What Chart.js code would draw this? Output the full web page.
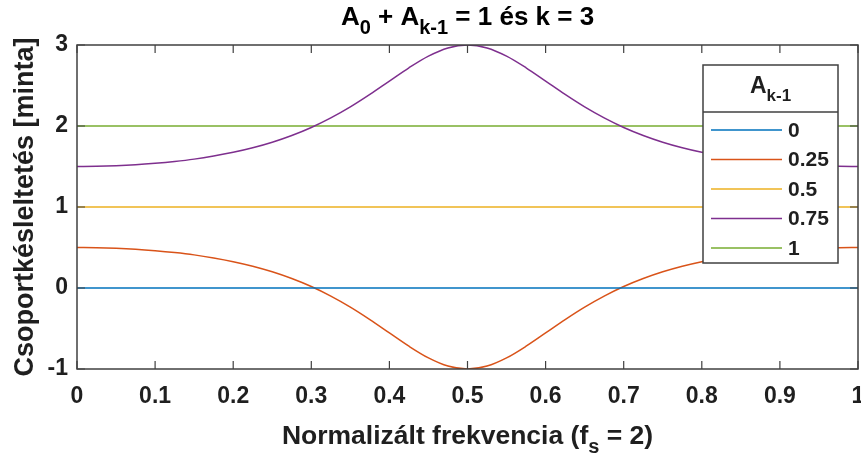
<!DOCTYPE html>
<html>
<head>
<meta charset="utf-8">
<script src="https://cdn.jsdelivr.net/npm/chart.js@4/dist/chart.umd.min.js"></script>
<style>
  html, body { margin: 0; padding: 0; background: #ffffff; }
  #wrap { width: 861px; height: 454px; }
</style>
</head>
<body>
<div id="wrap"><canvas id="c" width="861" height="454"></canvas></div>
<script>
// Normalised frequency grid (f_s = 2)
const freq = [
  0, 0.025, 0.05, 0.075, 0.1, 0.125, 0.15, 0.175, 0.2, 0.225,
  0.25, 0.275, 0.3, 0.325, 0.35, 0.375, 0.4, 0.425, 0.45, 0.475,
  0.5, 0.525, 0.55, 0.575, 0.6, 0.625, 0.65, 0.675, 0.7, 0.725,
  0.75, 0.775, 0.8, 0.825, 0.85, 0.875, 0.9, 0.925, 0.95, 0.975, 1
];

// Legend entries (value of A_{k-1})
const seriesLabels = ['0', '0.25', '0.5', '0.75', '1'];

// Group delay in samples for each A_{k-1}
const delayA0 = [
  0, 0, 0, 0, 0, 0, 0, 0, 0, 0,
  0, 0, 0, 0, 0, 0, 0, 0, 0, 0,
  0, 0, 0, 0, 0, 0, 0, 0, 0, 0,
  0, 0, 0, 0, 0, 0, 0, 0, 0, 0, 0
];
const delayA025 = [
  0.500, 0.498, 0.491, 0.479, 0.461, 0.438, 0.409, 0.371, 0.325, 0.269,
  0.200, 0.117, 0.018, -0.100, -0.236, -0.390, -0.555, -0.719, -0.863, -0.964,
  -1.000, -0.964, -0.863, -0.719, -0.555, -0.390, -0.236, -0.100, 0.018, 0.117,
  0.200, 0.269, 0.325, 0.371, 0.409, 0.438, 0.461, 0.479, 0.491, 0.498, 0.500
];
const delayA05 = [
  1, 1, 1, 1, 1, 1, 1, 1, 1, 1,
  1, 1, 1, 1, 1, 1, 1, 1, 1, 1,
  1, 1, 1, 1, 1, 1, 1, 1, 1, 1,
  1, 1, 1, 1, 1, 1, 1, 1, 1, 1, 1
];
const delayA075 = [
  1.500, 1.502, 1.509, 1.521, 1.539, 1.562, 1.591, 1.629, 1.675, 1.731,
  1.800, 1.883, 1.982, 2.100, 2.236, 2.390, 2.555, 2.719, 2.863, 2.964,
  3.000, 2.964, 2.863, 2.719, 2.555, 2.390, 2.236, 2.100, 1.982, 1.883,
  1.800, 1.731, 1.675, 1.629, 1.591, 1.562, 1.539, 1.521, 1.509, 1.502, 1.500
];
const delayA1 = [
  2, 2, 2, 2, 2, 2, 2, 2, 2, 2,
  2, 2, 2, 2, 2, 2, 2, 2, 2, 2,
  2, 2, 2, 2, 2, 2, 2, 2, 2, 2,
  2, 2, 2, 2, 2, 2, 2, 2, 2, 2, 2
];

// Axis tick labels
const xTickLabels = ['0', '0.1', '0.2', '0.3', '0.4', '0.5', '0.6', '0.7', '0.8', '0.9', '1'];
const yTickLabels = ['-1', '0', '1', '2', '3'];

const seriesValues = [delayA0, delayA025, delayA05, delayA075, delayA1];
const seriesColors = ['#0072BD', '#D95319', '#EDB120', '#7E2F8E', '#77AC30'];

const FONT = '"Liberation Sans", Arial, Helvetica, sans-serif';
const TEXT = '#1f1f1f';
const AXIS = '#404040';

const datasets = seriesValues.map((vals, i) => ({
  label: seriesLabels[i],
  data: freq.map((f, j) => ({ x: f, y: vals[j] })),
  borderColor: seriesColors[i],
  backgroundColor: seriesColors[i],
  borderWidth: 1.5,
  pointRadius: 0,
  fill: false,
  cubicInterpolationMode: 'monotone'
}));

// Draws a run of text pieces, some of them as subscripts
function drawRich(ctx, parts, x, y, size, align) {
  const subSize = Math.round(size * 0.75);
  const widths = parts.map(p => {
    ctx.font = 'bold ' + (p.sub ? subSize : size) + 'px ' + FONT;
    return ctx.measureText(p.t).width;
  });
  const total = widths.reduce((a, b) => a + b, 0);
  let cx = align === 'center' ? x - total / 2 : (align === 'right' ? x - total : x);
  ctx.textAlign = 'left';
  ctx.textBaseline = 'alphabetic';
  parts.forEach((p, i) => {
    ctx.font = 'bold ' + (p.sub ? subSize : size) + 'px ' + FONT;
    ctx.fillText(p.t, cx, p.sub ? y + size * 0.33 : y);
    cx += widths[i];
  });
}

const framePlugin = {
  id: 'frame',
  afterDatasetsDraw(chart) {
    const ctx = chart.ctx;
    const a = chart.chartArea;
    const xs = chart.scales.x, ys = chart.scales.y;
    ctx.save();
    ctx.strokeStyle = AXIS;
    ctx.lineWidth = 1.5;
    ctx.strokeRect(a.left, a.top, a.right - a.left, a.bottom - a.top);
    ctx.lineWidth = 1.2;
    ctx.beginPath();
    const tl = 8;
    xs.ticks.forEach(t => {
      const px = xs.getPixelForValue(t.value);
      ctx.moveTo(px, a.bottom); ctx.lineTo(px, a.bottom - tl);
      ctx.moveTo(px, a.top); ctx.lineTo(px, a.top + tl);
    });
    ys.ticks.forEach(t => {
      const py = ys.getPixelForValue(t.value);
      ctx.moveTo(a.left, py); ctx.lineTo(a.left + tl, py);
      ctx.moveTo(a.right, py); ctx.lineTo(a.right - tl, py);
    });
    ctx.stroke();
    ctx.restore();
  },
  afterDraw(chart) {
    const ctx = chart.ctx;
    const a = chart.chartArea;
    const midX = (a.left + a.right) / 2;
    ctx.save();
    ctx.fillStyle = '#000000';
    // Title
    drawRich(ctx, [
      { t: 'A' }, { t: '0', sub: true }, { t: ' + A' }, { t: 'k-1', sub: true },
      { t: ' = 1 és k = 3' }
    ], midX, 25, 26, 'center');
    // X axis title
    ctx.fillStyle = TEXT;
    drawRich(ctx, [
      { t: 'Normalizált frekvencia (f' }, { t: 's', sub: true }, { t: ' = 2)' }
    ], midX, 444, 26.5, 'center');
    // Y axis title
    ctx.save();
    ctx.translate(33, (a.top + a.bottom) / 2);
    ctx.rotate(-Math.PI / 2);
    drawRich(ctx, [{ t: 'Csoportkésleltetés [minta]' }], 0, 0, 27, 'center');
    ctx.restore();

    // Legend box
    const L = { left: 703, right: 838, top: 65, sep: 112, bottom: 263 };
    ctx.fillStyle = '#ffffff';
    ctx.fillRect(L.left, L.top, L.right - L.left, L.bottom - L.top);
    ctx.strokeStyle = AXIS;
    ctx.lineWidth = 1.5;
    ctx.strokeRect(L.left, L.top, L.right - L.left, L.bottom - L.top);
    ctx.beginPath();
    ctx.moveTo(L.left, L.sep); ctx.lineTo(L.right, L.sep);
    ctx.stroke();
    ctx.fillStyle = TEXT;
    drawRich(ctx, [{ t: 'A' }, { t: 'k-1', sub: true }], (L.left + L.right) / 2, 93, 23, 'center');
    const rowY = [130, 159.5, 189, 218.5, 248];
    chart.data.datasets.forEach((ds, i) => {
      const y = rowY[i];
      ctx.strokeStyle = ds.borderColor;
      ctx.lineWidth = 1.5;
      ctx.beginPath();
      ctx.moveTo(711, y); ctx.lineTo(782, y);
      ctx.stroke();
      ctx.fillStyle = TEXT;
      ctx.font = 'bold 21px ' + FONT;
      ctx.textAlign = 'left';
      ctx.textBaseline = 'middle';
      ctx.fillText(ds.label, 788, y + 1);
    });
    ctx.restore();
  }
};

new Chart(document.getElementById('c'), {
  type: 'line',
  data: { datasets },
  options: {
    responsive: false,
    devicePixelRatio: 1,
    animation: false,
    layout: { padding: { top: 45, right: 3, left: 0, bottom: 0 } },
    plugins: {
      legend: { display: false },
      title: { display: false },
      tooltip: { enabled: false }
    },
    scales: {
      x: {
        type: 'linear',
        min: 0,
        max: 1,
        grid: { display: false, drawTicks: false },
        border: { display: false },
        ticks: {
          stepSize: 0.1,
          autoSkip: false,
          maxRotation: 0,
          padding: 14,
          color: TEXT,
          font: { family: FONT, size: 23, weight: 'bold' },
          callback: (v, i) => xTickLabels[i]
        },
        afterFit(scale) {
          scale.height = 85;
          scale.paddingLeft = 0;
          scale.paddingRight = 0;
        }
      },
      y: {
        type: 'linear',
        min: -1,
        max: 3,
        grid: { display: false, drawTicks: false },
        border: { display: false },
        ticks: {
          stepSize: 1,
          autoSkip: false,
          padding: 9,
          color: TEXT,
          font: { family: FONT, size: 23, weight: 'bold' },
          callback: (v, i) => yTickLabels[i]
        },
        afterFit(scale) {
          scale.width = 77;
          scale.paddingTop = 0;
          scale.paddingBottom = 0;
        }
      }
    }
  },
  plugins: [framePlugin]
});
</script>
</body>
</html>
